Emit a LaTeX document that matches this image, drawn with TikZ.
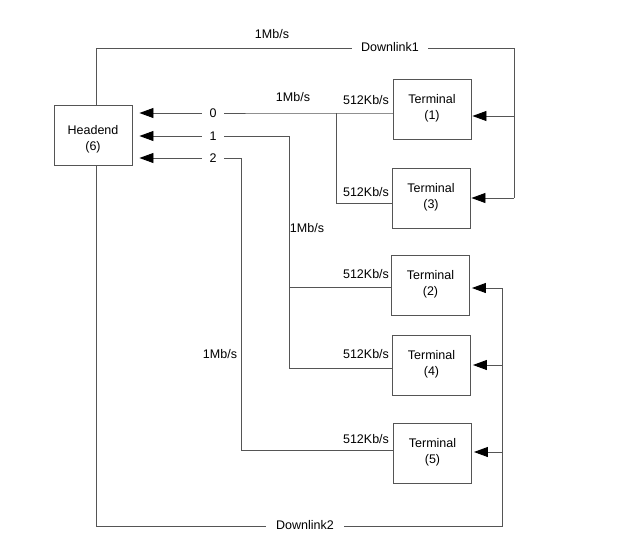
\documentclass[tikz,border=0pt]{standalone}
\usepackage{fontspec}
\setmainfont{Liberation Sans}
\usetikzlibrary{arrows.meta}
\definecolor{ln}{HTML}{555555}
\tikzset{
  box/.style={draw=ln,line width=0.9pt,minimum width=78pt,minimum height=60pt,inner sep=0pt,align=center,font=\fontsize{12.5}{16}\selectfont},
  wire/.style={draw=ln,line width=0.9pt},
  arr/.style={wire,-{Triangle[length=14pt,width=10pt,color=black]},shorten >=7pt},
  lab/.style={font=\fontsize{12.5}{15}\selectfont,inner sep=1pt},
  gap/.style={lab,fill=white,inner xsep=8pt,inner ysep=2pt}
}
\begin{document}
\begin{tikzpicture}[x=1pt,y=-1pt]
\useasboundingbox[fill=white] (0,0) rectangle (618,549);
% boxes
\node[box] (he) at (93,135.5) {};
\node[box] (t1) at (432,109) {};
\node[box] (t3) at (431,198) {};
\node[box] (t2) at (430.5,285) {};
\node[box] (t4) at (431.5,365.5) {};
\node[box] (t5) at (432.5,453) {};
\node[lab,align=center,font=\fontsize{12.5}{16}\selectfont] at ([yshift=-4pt]he.center) {Headend\\(6)};
\foreach \t/\n in {t1/1,t3/3,t2/2,t4/4,t5/5}
  \node[lab,align=center,font=\fontsize{12.5}{16}\selectfont] at ([yshift=1pt]\t.center) {Terminal\\(\n)};
% corner coordinates
\coordinate (d1a) at (96,48);
\coordinate (d1b) at (514,48);
\coordinate (d1c) at (514,198);
\coordinate (d1m) at (514,116);
\coordinate (d2a) at (96,526);
\coordinate (d2b) at (502,526);
\coordinate (d2c) at (502,288);
\coordinate (d2m) at (502,365);
\coordinate (d2n) at (502,452);
\coordinate (b0) at (336,113);
\coordinate (b0d) at (336,203);
\coordinate (b1) at (289,136);
\coordinate (b1a) at (289,287);
\coordinate (b1b) at (289,368);
\coordinate (b2) at (241,158);
\coordinate (b2a) at (241,450);
% downlink 1
\draw[wire] (he.north -| d1a) -- (d1a) -- (d1b) -- (d1c);
\draw[arr,shorten >=1pt] (d1m) -- (t1.east |- d1m);
\draw[arr,shorten >=1pt] (d1c) -- (t3.east |- d1c);
% downlink 2
\draw[wire] (he.south -| d2a) -- (d2a) -- (d2b) -- (d2c);
\draw[arr,shorten >=2pt] (d2c) -- (t2.east |- d2c);
\draw[arr,shorten >=2pt] (d2m) -- (t4.east |- d2m);
\draw[arr,shorten >=2pt] (d2n) -- (t5.east |- d2n);
% uplinks
\draw[arr] (t1.west |- b0) -- (b0) -- (he.east |- b0);
\draw[wire] (b0) -- (b0d) -- (t3.west |- b0d);
\draw[arr] (b1) -- (he.east |- b1);
\draw[wire] (t2.west |- b1a) -- (b1a);
\draw[wire] (t4.west |- b1b) -- (b1b) -- (b1);
\draw[arr] (b2) -- (he.east |- b2);
\draw[wire] (t5.west |- b2a) -- (b2a) -- (b2);
% labels on lines
\node[gap] at (213,113) {0};
\node[gap] at (213,136) {1};
\node[gap] at (213,158) {2};
\node[gap,inner xsep=9pt] at (390,47) {Downlink1};
\node[gap,inner xsep=10pt] at (305,525) {Downlink2};
% rate labels
\node[lab] at (272,34) {1Mb/s};
\node[lab] at (293,97) {1Mb/s};
\node[lab] at (307,228) {1Mb/s};
\node[lab] at (220,354) {1Mb/s};
\node[lab] at (366,100) {512Kb/s};
\node[lab] at (366,192) {512Kb/s};
\node[lab] at (366,274) {512Kb/s};
\node[lab] at (366,354) {512Kb/s};
\node[lab] at (366,439) {512Kb/s};
\end{tikzpicture}
\end{document}
